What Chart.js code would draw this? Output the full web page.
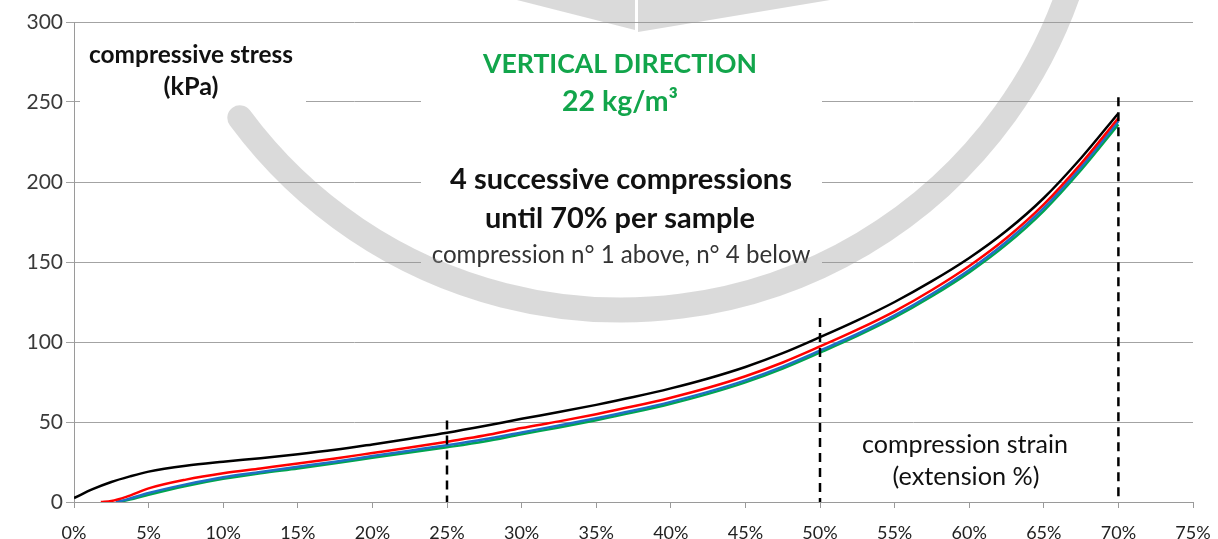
<!DOCTYPE html>
<html>
<head>
<meta charset="utf-8">
<script src="https://cdn.jsdelivr.net/npm/chart.js@4.4.1/dist/chart.umd.min.js"></script>
<style>
  html, body { margin: 0; padding: 0; background: #fff; overflow: hidden; }
  #wrap { position: absolute; left: 0; top: 0; width: 1218px; height: 560px; }
</style>
</head>
<body>
<div id="wrap"><canvas id="stressChart" width="1218" height="560"></canvas></div>
<script>
// compression n° 1 (black)
const strain1 = [0, 1.25, 2.5, 3.75, 5, 7.5, 10, 12.5, 15, 17.5, 20, 22.5, 25, 27.5, 30, 32.5, 35, 37.5, 40, 42.5, 45, 47.5, 50, 52.5, 55, 57.5, 60, 62.5, 65, 67.5, 70];
const stress1 = [2.5, 8, 12.5, 16, 19, 22.7, 25.2, 27.4, 29.8, 32.6, 36, 39.6, 43.3, 47.5, 52, 56.2, 60.7, 65.6, 71, 77.2, 84.4, 93, 103, 113.5, 125, 138, 152.5, 169.5, 190, 215, 243];
// compression n° 2 (red)
const strain2 = [1.8, 2.5, 3.5, 5, 7.5, 10, 12.5, 15, 17.5, 20, 22.5, 25, 27.5, 30, 32.5, 35, 37.5, 40, 42.5, 45, 47.5, 50, 52.5, 55, 57.5, 60, 62.5, 65, 67.5, 70];
const stress2 = [0, 0.6, 3.2, 8.5, 14, 18, 21, 24, 27.2, 30.6, 34, 37.7, 41.5, 46.2, 50.4, 54.9, 59.8, 65.2, 71.4, 78.6, 87.2, 97.2, 107.7, 119.2, 132.5, 147.5, 165, 186, 211.5, 240];
// compression n° 3 (blue)
const strain3 = [2.8, 3.5, 5, 7.5, 10, 12.5, 15, 17.5, 20, 22.5, 25, 27.5, 30, 32.5, 35, 37.5, 40, 42.5, 45, 47.5, 50, 52.5, 55, 57.5, 60, 62.5, 65, 67.5, 70];
const stress3 = [0, 1.5, 5.6, 11, 15.5, 18.8, 22, 25.2, 28.7, 32.1, 35.5, 39.2, 43.5, 47.8, 52.3, 57.2, 62.6, 68.8, 76, 84.6, 94.6, 105, 116.6, 130, 145, 162.7, 183.8, 209.3, 238];
// compression n° 4 (green)
const strain4 = [3, 4, 5, 7.5, 10, 12.5, 15, 17.5, 20, 22.5, 25, 27.5, 30, 32.5, 35, 37.5, 40, 42.5, 45, 47.5, 50, 52.5, 55, 57.5, 60, 62.5, 65, 67.5, 70];
const stress4 = [0, 2, 4.5, 10, 14.5, 18, 21, 24.2, 27.6, 30.9, 34.2, 37.8, 42.3, 46.6, 51.1, 56, 61.4, 67.6, 74.8, 83.4, 93.4, 103.8, 115.3, 128.6, 143.5, 161, 182, 207.5, 236];

// dashed markers
const markerStrain = [25, 50, 70];
const markerTop = [51, 115, 253];

const yTicks = [0, 50, 100, 150, 200, 250, 300];

const FONT = "Lato, 'Open Sans', sans-serif";

function toPoints(xs, ys) {
    return xs.map((x, i) => ({ x: x, y: ys[i] }));
}

function curve(label, xs, ys, color) {
    return {
        label: label,
        data: toPoints(xs, ys),
        borderColor: color,
        borderWidth: 2.5,
        pointRadius: 0,
        fill: false,
        cubicInterpolationMode: 'monotone'
    };
}

const markerSets = markerStrain.map((s, i) => ({
    label: 'marker ' + s,
    data: [{ x: s, y: markerTop[i] }, { x: s, y: 0 }],
    borderColor: '#000',
    borderWidth: 2.5,
    borderDash: [9, 6],
    pointRadius: 0,
    fill: false
}));

// draw text scaled to a given width, centered on cx
function fitText(ctx, text, cx, baseY, width, weight, color) {
    ctx.font = weight + ' 20px ' + FONT;
    const w = ctx.measureText(text).width;
    const size = 20 * width / w;
    ctx.font = weight + ' ' + size.toFixed(2) + 'px ' + FONT;
    ctx.fillStyle = color;
    ctx.textAlign = 'center';
    ctx.textBaseline = 'alphabetic';
    ctx.fillText(text, cx, baseY);
}

const overlay = {
    id: 'overlay',
    beforeDatasetsDraw(chart) {
        const ctx = chart.ctx;
        ctx.save();
        // white boxes behind the labels
        ctx.fillStyle = '#fff';
        ctx.fillRect(80, 36, 226, 72);
        ctx.fillRect(421, 34, 401, 238);

        fitText(ctx, 'compressive stress', 191, 63, 204, 'bold', '#111');
        fitText(ctx, '(kPa)', 191, 95, 55, 'bold', '#111');

        fitText(ctx, 'VERTICAL DIRECTION', 620, 73, 274, 'bold', '#12a54b');
        fitText(ctx, '22 kg/m\u00b3', 620, 111, 116, 'bold', '#12a54b');

        fitText(ctx, '4 successive compressions', 621, 189, 342, 'bold', '#111');
        fitText(ctx, 'until 70% per sample', 620, 228, 270, 'bold', '#111');
        fitText(ctx, 'compression n\u00b0 1 above, n\u00b0 4 below', 621, 263, 379, 'normal', '#333');

        fitText(ctx, 'compression strain', 965, 453, 206, 'normal', '#111');
        fitText(ctx, '(extension %)', 966, 485, 147, 'normal', '#111');
        ctx.restore();
    },
    afterDraw(chart) {
        // grey watermark
        const ctx = chart.ctx;
        ctx.save();
        ctx.strokeStyle = 'rgba(150,150,150,0.35)';
        ctx.fillStyle = 'rgba(150,150,150,0.35)';
        ctx.lineWidth = 25;
        ctx.lineCap = 'round';
        ctx.beginPath();
        ctx.arc(621, -164, 474, 0.25, 2.505);
        ctx.stroke();
        ctx.beginPath();
        ctx.moveTo(517, 0); ctx.lineTo(635, 0); ctx.lineTo(635, 30); ctx.closePath();
        ctx.fill();
        ctx.beginPath();
        ctx.moveTo(638, 0); ctx.lineTo(830, 0); ctx.lineTo(638, 32); ctx.closePath();
        ctx.fill();
        ctx.restore();
    }
};

new Chart(document.getElementById('stressChart'), {
    type: 'line',
    data: {
        datasets: [
            ...markerSets,
            curve('compression n° 1', strain1, stress1, '#000000'),
            curve('compression n° 2', strain2, stress2, '#ff0000'),
            curve('compression n° 3', strain3, stress3, '#1f6fc5'),
            curve('compression n° 4', strain4, stress4, '#00a550')
        ]
    },
    options: {
        responsive: false,
        animation: false,
        layout: { padding: { top: 22, right: 25, left: 0, bottom: 0 } },
        plugins: {
            legend: { display: false },
            tooltip: { enabled: false }
        },
        scales: {
            x: {
                type: 'linear',
                min: 0,
                max: 75,
                ticks: {
                    stepSize: 5,
                    autoSkip: false,
                    maxRotation: 0,
                    padding: 14,
                    color: '#222',
                    font: { family: FONT, size: 18 },
                    callback: v => v + '%'
                },
                grid: { drawOnChartArea: false, tickLength: 6, color: '#9a9a9a' },
                border: { color: '#9a9a9a' },
                afterFit: s => { s.height = 58; s.paddingRight = 20; s.paddingLeft = 0; }
            },
            y: {
                min: 0,
                max: 300,
                afterBuildTicks: s => { s.ticks = yTicks.map(v => ({ value: v })); },
                ticks: {
                    padding: 3,
                    color: '#3a3a3a',
                    font: { family: FONT, size: 21 }
                },
                grid: { color: '#a3a3a3', tickLength: 8 },
                border: { color: '#9a9a9a' },
                afterFit: s => { s.width = 74; }
            }
        }
    },
    plugins: [overlay]
});
</script>
</body>
</html>
